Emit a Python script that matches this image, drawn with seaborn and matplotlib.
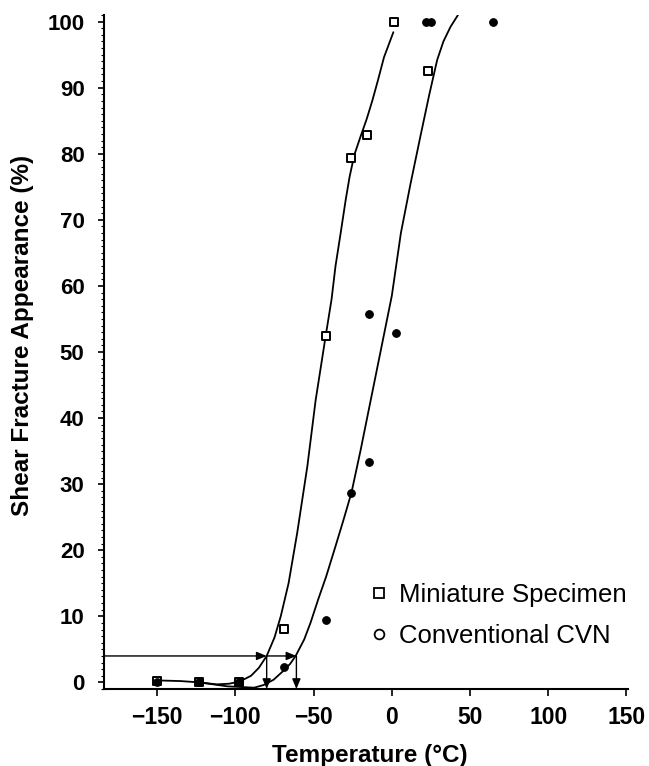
import matplotlib
matplotlib.use("Agg")
import matplotlib.pyplot as plt
from matplotlib.lines import Line2D
from matplotlib.ticker import MultipleLocator
import seaborn as sns
import pandas as pd

# ---- data ----
mini_temp = [-150, -123, -98, -69, -42, -26.3, -15.6, 1.5, 23]
mini_sfa = [0.2, 0.1, 0.1, 8.1, 52.4, 79.3, 82.9, 100, 92.6]

cvn_temp = [-150, -123, -98, -69, -42, -25.8, -14.5, -14.5, 2.6, 22, 25, 65]
cvn_sfa = [0.1, 0.0, 0.0, 2.4, 9.5, 28.7, 33.3, 55.7, 52.9, 100, 100, 100]

# fitted curves
mini_curve_t = [-150, -135, -123, -112, -104, -98, -95, -90, -85, -80, -75, -71,
                -66, -60.5, -54, -48.7, -42.3, -38.5, -36, -32.7, -29.5, -27, -24,
                -20, -16, -12.5, -9, -5, 1]
mini_curve_y = [0.3, 0.2, 0.0, -0.3, -0.2, 0.1, 0.4, 1.0, 2.2, 4.0, 6.8, 10.0,
                15.0, 22.6, 32.7, 42.7, 52.4, 58, 63, 68, 73, 76.5, 79.8,
                82.6, 85.3, 88, 91, 94.6, 98.4]

cvn_curve_t = [-123, -105, -88, -82, -75.6, -70, -65, -61.5, -56, -52, -47, -42,
               -36, -31, -25.8, -19.9, -13.5, -7, 0, 5.8, 12, 18.6, 24, 29, 33,
               37.5, 42.3]
cvn_curve_y = [0.0, -0.6, -0.8, -0.4, 0.4, 1.6, 2.8, 4.0, 6.5, 9.0, 12.6, 16.0,
               20.6, 24.5, 28.7, 35.2, 42.7, 50.3, 58.5, 68, 75.5, 83, 89, 94.2,
               97.0, 99.2, 101]

# 4 % SFA transition temperatures (arrows)
sfa_level = 4.0
trans_temps = [-80, -61]

x_ticks = [-150, -100, -50, 0, 50, 100, 150]
y_ticks = [0, 10, 20, 30, 40, 50, 60, 70, 80, 90, 100]
legend_labels = ["Miniature Specimen", "Conventional CVN"]

# ---- plotting ----
sns.set_style("ticks")
plt.rcParams["font.family"] = ["Liberation Sans", "DejaVu Sans"]
plt.rcParams["text.color"] = "black"
plt.rcParams["axes.labelcolor"] = "black"
plt.rcParams["xtick.color"] = "black"
plt.rcParams["ytick.color"] = "black"

fig = plt.figure(figsize=(6.49, 7.66), dpi=100)
ax = fig.add_axes([104 / 649, 1 - 689 / 766, (628 - 104) / 649, (689 - 15) / 766])

xmin, xmax, ymin, ymax = -184, 151, -1, 101

mc = pd.DataFrame({"t": mini_curve_t, "y": mini_curve_y})
cc = pd.DataFrame({"t": cvn_curve_t, "y": cvn_curve_y})
sns.lineplot(data=mc, x="t", y="y", sort=False, estimator=None, color="black",
             linewidth=1.3, ax=ax)
sns.lineplot(data=cc, x="t", y="y", sort=False, estimator=None, color="black",
             linewidth=1.3, ax=ax)

md = pd.DataFrame({"t": mini_temp, "y": mini_sfa})
cd = pd.DataFrame({"t": cvn_temp, "y": cvn_sfa})
sns.scatterplot(data=md, x="t", y="y", marker="s", s=26, facecolor="white",
                edgecolor="black", linewidth=1.4, ax=ax, zorder=3)
sns.scatterplot(data=cd, x="t", y="y", marker="o", s=30, color="black",
                edgecolor="black", linewidth=0.8, ax=ax, zorder=4)

# arrows at 4 % shear
arrow_kw = dict(arrowstyle="-|>,head_length=0.6,head_width=0.25", color="black",
                lw=1.0, shrinkA=0, shrinkB=0)
starts = [xmin] + trans_temps[:-1]
for x0, x1 in zip(starts, trans_temps):
    ax.annotate("", xy=(x1, sfa_level), xytext=(x0, sfa_level), arrowprops=arrow_kw)
for xt in trans_temps:
    ax.annotate("", xy=(xt, ymin), xytext=(xt, sfa_level), arrowprops=arrow_kw)

ax.set_xlim(xmin, xmax)
ax.set_ylim(ymin, ymax)
ax.set_xticks(x_ticks)
ax.set_xticklabels(["\u2212150", "\u2212100", "\u221250", "0", "50", "100", "150"])
ax.set_yticks(y_ticks)
ax.yaxis.set_minor_locator(MultipleLocator(1))

for lab in ax.get_xticklabels():
    lab.set_fontweight("bold")
for lab in ax.get_yticklabels():
    lab.set_fontweight("bold")
ax.tick_params(axis="x", which="major", direction="out", length=5, width=1.2,
               labelsize=16.5, pad=7, colors="black")
ax.tick_params(axis="y", which="major", direction="out", length=4, width=1.2,
               labelsize=16, pad=10, colors="black")
ax.tick_params(axis="y", which="minor", direction="out", length=2, width=0.8,
               colors="black")

sns.despine(ax=ax)
for sp in ["left", "bottom"]:
    ax.spines[sp].set_linewidth(1.5)
    ax.spines[sp].set_color("black")

ax.set_xlabel("Temperature (\u00b0C)", fontsize=17.5, fontweight="bold", va="center",
              color="black")
ax.xaxis.set_label_coords(0.508, -0.0994)
ax.set_ylabel("Shear Fracture Appearance (%)", fontsize=17.5, fontweight="bold",
              va="center", color="black")
ax.yaxis.set_label_coords(-0.156, 0.524)

handles = [
    Line2D([], [], linestyle="none", marker="s", markersize=7, markerfacecolor="white",
           markeredgecolor="black", markeredgewidth=1.3),
    Line2D([], [], linestyle="none", marker="o", markersize=7, markerfacecolor="white",
           markeredgecolor="black", markeredgewidth=1.3),
]
leg = ax.legend(handles, legend_labels, loc="upper left",
                bbox_to_anchor=(366 / 649, 1 - 583 / 766), bbox_transform=fig.transFigure,
                frameon=False, fontsize=18.5, handlelength=1.0, handletextpad=0.3,
                borderpad=0, borderaxespad=0, labelspacing=0.68)
for t in leg.get_texts():
    t.set_color("black")

fig.savefig("out.png", dpi=100)
